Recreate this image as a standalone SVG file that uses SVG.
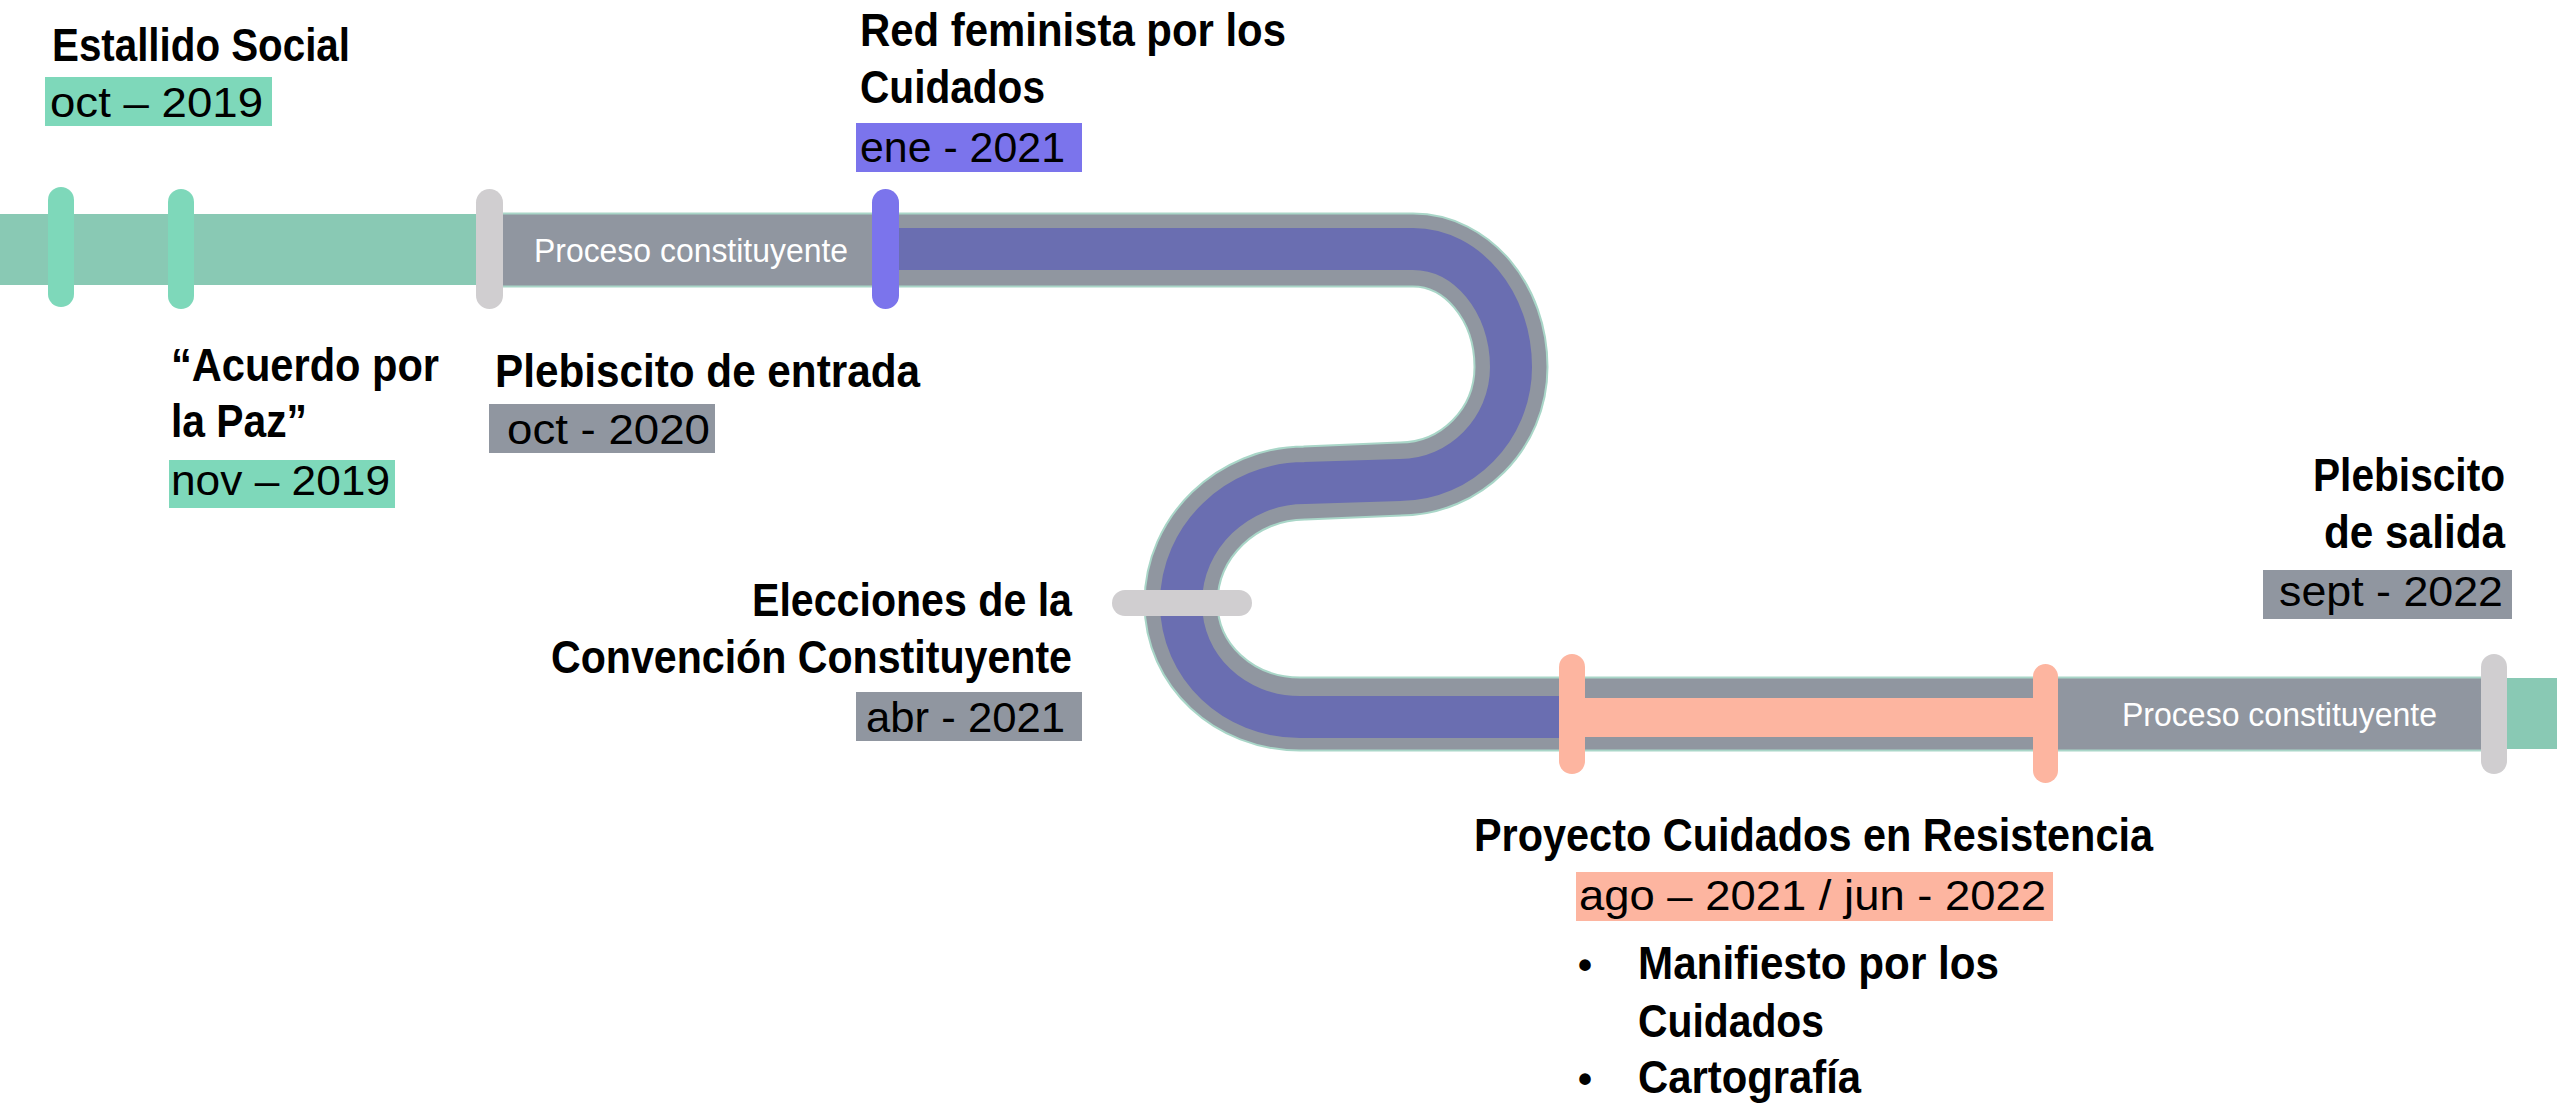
<svg xmlns="http://www.w3.org/2000/svg" width="2557" height="1104" viewBox="0 0 2557 1104">
  <style>
    .h { font-family: "Liberation Sans", Arial, sans-serif; font-weight: bold; font-size: 46px; fill: #000; }
    .d { font-family: "Liberation Sans", Arial, sans-serif; font-size: 43px; fill: #000; }
    .w { font-family: "Liberation Sans", Arial, sans-serif; font-size: 34px; fill: #fff; }
    .end { text-anchor: end; }
    .bg-green { fill: #7ED8BA; }
    .bg-grey { fill: #9096A0; }
    .bg-purple { fill: #7B74EC; }
    .bg-peach { fill: #FDB5A0; }
    .tick-green { fill: #7ED8BA; }
    .tick-grey { fill: #D0CED0; }
    .tick-purple { fill: #7B74EC; }
    .tick-peach { fill: #FDB5A0; }
  </style>

  <g id="connectors">
    <rect x="0" y="214" width="490" height="71" fill="#89C9B4"/>
    <rect x="2495" y="678" width="62" height="71" fill="#89C9B4"/>
    <path d="M 484 250 L 1413 250 C 1467 250 1511 302 1511 367 C 1511 429 1461 479 1400 479 L 1305 483 C 1237 483 1181 537 1181 603 C 1181 665 1234 714 1300 714 L 2495 714" fill="none" stroke="#A9D6C8" stroke-width="75"/>
    <path d="M 484 250 L 1413 250 C 1467 250 1511 302 1511 367 C 1511 429 1461 479 1400 479 L 1305 483 C 1237 483 1181 537 1181 603 C 1181 665 1234 714 1300 714 L 2495 714" fill="none" stroke="#9096A0" stroke-width="71"/>
    <path d="M 880 249 L 1413 249 C 1467 249 1511 302 1511 367 C 1511 429 1461 480 1400 480 L 1305 483 C 1237 483 1181 537 1181 603 C 1181 667 1234 717 1300 717 L 1572 717" fill="none" stroke="#6A6EB1" stroke-width="42"/>
    <rect x="1572" y="698" width="474" height="39" fill="#FDB5A0"/>
    <text class="w" x="534" y="262" textLength="314" lengthAdjust="spacingAndGlyphs">Proceso constituyente</text>
    <text class="w" x="2122" y="726" textLength="315" lengthAdjust="spacingAndGlyphs">Proceso constituyente</text>
  </g>

  <g id="estallido-social">
    <rect class="tick-green" x="48" y="187" width="26" height="120" rx="13"/>
    <text class="h" x="52" y="61" textLength="298" lengthAdjust="spacingAndGlyphs">Estallido Social</text>
    <rect class="bg-green" x="45" y="77" width="227" height="49"/>
    <text class="d" x="50" y="117" textLength="213" lengthAdjust="spacingAndGlyphs">oct – 2019</text>
  </g>

  <g id="acuerdo-por-la-paz">
    <rect class="tick-green" x="168" y="189" width="26" height="120" rx="13"/>
    <text class="h" x="171" y="381" textLength="268" lengthAdjust="spacingAndGlyphs">“Acuerdo por</text>
    <text class="h" x="171" y="437" textLength="136" lengthAdjust="spacingAndGlyphs">la Paz”</text>
    <rect class="bg-green" x="169" y="460" width="226" height="48"/>
    <text class="d" x="171" y="495" textLength="219" lengthAdjust="spacingAndGlyphs">nov – 2019</text>
  </g>

  <g id="plebiscito-entrada">
    <rect class="tick-grey" x="476" y="189" width="27" height="120" rx="13.5"/>
    <text class="h" x="495" y="387" textLength="425" lengthAdjust="spacingAndGlyphs">Plebiscito de entrada</text>
    <rect class="bg-grey" x="489" y="404" width="226" height="49"/>
    <text class="d" x="507" y="444" textLength="203" lengthAdjust="spacingAndGlyphs">oct - 2020</text>
  </g>

  <g id="red-feminista">
    <rect class="tick-purple" x="872" y="189" width="27" height="120" rx="13.5"/>
    <text class="h" x="860" y="46" textLength="426" lengthAdjust="spacingAndGlyphs">Red feminista por los</text>
    <text class="h" x="860" y="103" textLength="185" lengthAdjust="spacingAndGlyphs">Cuidados</text>
    <rect class="bg-purple" x="856" y="123" width="226" height="49"/>
    <text class="d" x="860" y="162" textLength="205" lengthAdjust="spacingAndGlyphs">ene - 2021</text>
  </g>

  <g id="elecciones-convencion">
    <rect class="tick-grey" x="1112" y="590" width="140" height="26" rx="13"/>
    <text class="h end" x="1072" y="616" textLength="320" lengthAdjust="spacingAndGlyphs">Elecciones de la</text>
    <text class="h end" x="1072" y="673" textLength="521" lengthAdjust="spacingAndGlyphs">Convención Constituyente</text>
    <rect class="bg-grey" x="856" y="692" width="226" height="49"/>
    <text class="d" x="866" y="732" textLength="199" lengthAdjust="spacingAndGlyphs">abr - 2021</text>
  </g>

  <g id="proyecto-cuidados">
    <rect class="tick-peach" x="1559" y="654" width="26" height="120" rx="13"/>
    <rect class="tick-peach" x="2033" y="664" width="25" height="119" rx="12.5"/>
    <text class="h" x="1474" y="851" textLength="679" lengthAdjust="spacingAndGlyphs">Proyecto Cuidados en Resistencia</text>
    <rect class="bg-peach" x="1576" y="872" width="477" height="49"/>
    <text class="d" x="1579" y="910" textLength="467" lengthAdjust="spacingAndGlyphs">ago – 2021 / jun - 2022</text>
    <text class="h" x="1578" y="979" style="font-size:40px">•</text>
    <text class="h" x="1638" y="979" textLength="361" lengthAdjust="spacingAndGlyphs">Manifiesto por los</text>
    <text class="h" x="1638" y="1037" textLength="186" lengthAdjust="spacingAndGlyphs">Cuidados</text>
    <text class="h" x="1578" y="1093" style="font-size:40px">•</text>
    <text class="h" x="1638" y="1093" textLength="223" lengthAdjust="spacingAndGlyphs">Cartografía</text>
  </g>

  <g id="plebiscito-salida">
    <rect class="tick-grey" x="2481" y="654" width="26" height="120" rx="13"/>
    <text class="h end" x="2505" y="491" textLength="192" lengthAdjust="spacingAndGlyphs">Plebiscito</text>
    <text class="h end" x="2505" y="548" textLength="181" lengthAdjust="spacingAndGlyphs">de salida</text>
    <rect class="bg-grey" x="2263" y="570" width="249" height="49"/>
    <text class="d" x="2279" y="606" textLength="224" lengthAdjust="spacingAndGlyphs">sept - 2022</text>
  </g>
</svg>
